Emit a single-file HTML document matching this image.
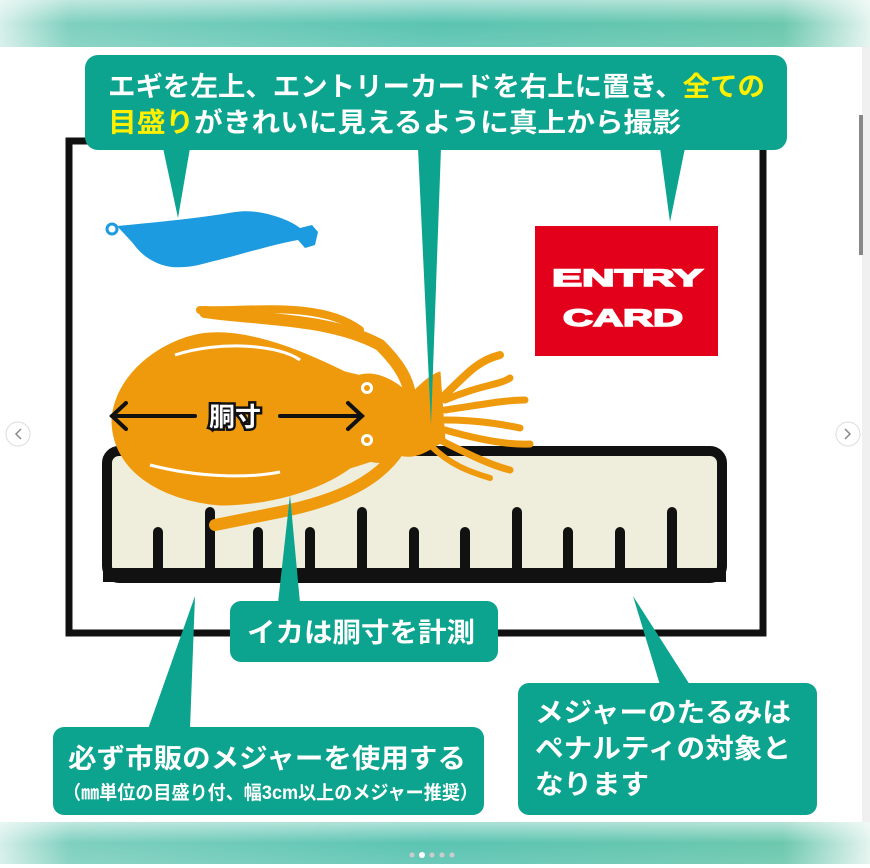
<!DOCTYPE html>
<html><head><meta charset="utf-8"><style>
html,body{margin:0;padding:0;width:870px;height:868px;overflow:hidden;background:#fff}
svg{display:block}
text{font-family:"Liberation Sans","Noto Sans CJK JP",sans-serif;font-weight:bold}
</style></head><body>
<svg width="870" height="868" viewBox="0 0 870 868" xmlns="http://www.w3.org/2000/svg">
<defs>
<linearGradient id="band" x1="0" y1="0" x2="1" y2="0">
<stop offset="0" stop-color="#d6efe9"/><stop offset="0.08" stop-color="#7fd0bf"/><stop offset="0.5" stop-color="#5bc4b2"/><stop offset="0.9" stop-color="#6cc8ae"/><stop offset="1" stop-color="#e4f4ef"/>
</linearGradient>
<linearGradient id="bandv" x1="0" y1="0" x2="0" y2="1">
<stop offset="0" stop-color="#fff" stop-opacity="0.5"/><stop offset="0.5" stop-color="#fff" stop-opacity="0"/><stop offset="1" stop-color="#fff" stop-opacity="0.1"/>
</linearGradient>
</defs>
<rect x="0" y="0" width="870" height="47" fill="url(#band)"/>
<rect x="0" y="0" width="870" height="47" fill="url(#bandv)"/>
<rect x="0" y="822" width="870" height="42" fill="url(#band)"/>
<rect x="0" y="822" width="870" height="42" fill="url(#bandv)"/>
<rect x="862" y="47" width="8" height="775" fill="#f0f0f0"/>
<rect x="859" y="115" width="4" height="140" fill="#888"/>
<g fill="#ccc"><circle cx="412" cy="855" r="2.5"/><circle cx="432" cy="855" r="2.5"/><circle cx="442" cy="855" r="2.5"/><circle cx="452" cy="855" r="2.5"/></g>
<circle cx="422" cy="855" r="3" fill="#fff"/>

<rect x="69" y="141" width="694" height="492" fill="none" stroke="#111" stroke-width="7"/>

<rect x="535" y="226" width="183" height="130" fill="#e3001b"/>
<text x="552" y="286" font-size="24" fill="#fff" stroke="#fff" stroke-width="1.5" textLength="151" lengthAdjust="spacingAndGlyphs" style="font-weight:900">ENTRY</text>
<text x="563" y="326" font-size="24" fill="#fff" stroke="#fff" stroke-width="1.5" textLength="120" lengthAdjust="spacingAndGlyphs" style="font-weight:900">CARD</text>

<g fill="#1c9be0">
<circle cx="112" cy="229" r="5" fill="none" stroke="#1c9be0" stroke-width="3"/>
<path d="M117 226 C160 222 200 218 235 212 C260 208 290 220 300 228 L312 225 L318 232 L315 245 L305 248 L298 240 C270 245 240 255 210 262 C190 268 170 270 155 262 C140 255 135 245 130 240 Z"/>
</g>

<rect x="107" y="451" width="615" height="127" rx="12" fill="#efeddb" stroke="#111" stroke-width="10"/>
<g stroke="#111" stroke-width="10" stroke-linecap="round">
<line x1="158" y1="532" x2="158" y2="572"/><line x1="210" y1="512" x2="210" y2="572"/>
<line x1="258" y1="532" x2="258" y2="572"/><line x1="310" y1="532" x2="310" y2="572"/>
<line x1="362" y1="512" x2="362" y2="572"/><line x1="414" y1="532" x2="414" y2="572"/>
<line x1="465" y1="532" x2="465" y2="572"/><line x1="517" y1="512" x2="517" y2="572"/>
<line x1="568" y1="532" x2="568" y2="572"/><line x1="620" y1="532" x2="620" y2="572"/>
<line x1="672" y1="512" x2="672" y2="572"/>
</g>
<rect x="103" y="568" width="623" height="14" fill="#111"/>

<g fill="#ef9a0c" stroke="#ef9a0c" stroke-linecap="round" stroke-linejoin="round">
<path d="M112 420 C115 370 170 335 210 333 C260 330 320 360 345 372 L370 378 L375 460 L350 468 C320 490 270 505 220 505 C160 500 112 470 112 420 Z"/>
<path d="M360 375 C380 370 400 385 410 395 C420 385 430 375 440 372 L445 440 C430 450 415 460 400 455 C390 465 370 465 360 455 Z"/>
<path d="M205 312 C260 320 330 318 380 345 C400 365 408 380 410 395" fill="none" stroke-width="12"/>
<path d="M200 310 C250 312 320 300 360 330" fill="none" stroke-width="8"/>
<path d="M400 448 C380 480 340 500 280 512 L215 525" fill="none" stroke-width="12"/>
<path d="M445 395 C470 370 480 360 500 355" fill="none" stroke-width="8"/>
<path d="M445 400 C480 385 500 385 510 378" fill="none" stroke-width="7"/>
<path d="M445 410 C480 405 505 400 525 400" fill="none" stroke-width="7"/>
<path d="M445 420 C480 420 505 425 520 428" fill="none" stroke-width="7"/>
<path d="M445 430 C480 440 510 445 530 444" fill="none" stroke-width="7"/>
<path d="M440 440 C470 455 490 465 510 470" fill="none" stroke-width="7"/>
<path d="M430 445 C450 465 470 472 490 478" fill="none" stroke-width="6"/>
</g>
<g fill="#fff"><circle cx="367" cy="388" r="6"/><circle cx="367" cy="440" r="6"/></g>
<g fill="#ef9a0c"><circle cx="367" cy="388" r="3"/><circle cx="367" cy="440" r="3"/></g>
<path d="M175 355 C220 340 280 345 300 360" fill="none" stroke="#fff" stroke-width="3"/>
<path d="M150 465 C200 478 250 478 280 472" fill="none" stroke="#fff" stroke-width="3"/>
<g stroke="#111" stroke-width="4" fill="none" stroke-linecap="round">
<line x1="112" y1="416" x2="195" y2="416"/><line x1="280" y1="416" x2="362" y2="416"/>
<path d="M126 403 L112 416 L126 429"/><path d="M348 403 L362 416 L348 429"/>
</g>
<text x="235" y="426" font-size="26" fill="#fff" stroke="#111" stroke-width="5" paint-order="stroke" text-anchor="middle">胴寸</text>

<g fill="#0ca48e">
<rect x="85" y="55" width="702" height="95" rx="13"/>
<polygon points="163,148 190,148 178,218"/>
<polygon points="418,148 441,148 431,425"/>
<polygon points="660,148 685,148 670,222"/>
<rect x="230" y="601" width="268" height="61" rx="11"/>
<polygon points="278,603 300,603 290,495"/>
<rect x="53" y="727" width="431" height="88" rx="11"/>
<polygon points="148,729 190,729 195,596"/>
<rect x="518" y="683" width="299" height="132" rx="11"/>
<polygon points="660,685 690,685 633,596"/>
</g>
<text font-size="27" fill="#fff" x="108" y="96" textLength="657" lengthAdjust="spacingAndGlyphs">エギを左上、エントリーカードを右上に置き、<tspan fill="#fff000">全ての</tspan></text>
<text font-size="27" fill="#fff" x="108" y="132" textLength="573" lengthAdjust="spacingAndGlyphs"><tspan fill="#fff000">目盛り</tspan>がきれいに見えるように真上から撮影</text>
<text font-size="27" fill="#fff" x="247" y="642" textLength="228" lengthAdjust="spacingAndGlyphs">イカは胴寸を計測</text>
<text font-size="27" fill="#fff" x="68" y="768" textLength="398" lengthAdjust="spacingAndGlyphs">必ず市販のメジャーを使用する</text>
<text font-size="19" fill="#fff" x="63" y="799" textLength="415" lengthAdjust="spacingAndGlyphs">（㎜単位の目盛り付、幅3cm以上のメジャー推奨）</text>
<text font-size="27" fill="#fff" x="535" y="722" textLength="256" lengthAdjust="spacingAndGlyphs">メジャーのたるみは</text>
<text font-size="27" fill="#fff" x="535" y="758" textLength="256" lengthAdjust="spacingAndGlyphs">ペナルティの対象と</text>
<text font-size="27" fill="#fff" x="535" y="794" textLength="114" lengthAdjust="spacingAndGlyphs">なります</text>

<g fill="#fff" stroke="#ddd"><circle cx="18" cy="434" r="12"/><circle cx="848" cy="434" r="12"/></g>
<g stroke="#888" stroke-width="1.5" fill="none"><path d="M21 429 L16 434 L21 439"/><path d="M845 429 L850 434 L845 439"/></g>
</svg>
</body></html>
